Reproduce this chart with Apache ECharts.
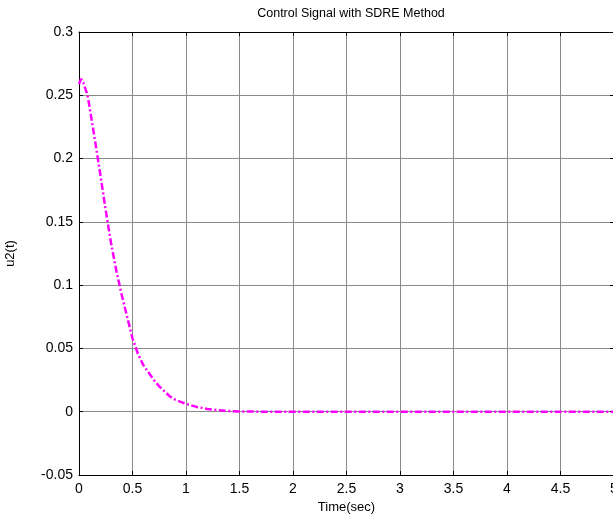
<!DOCTYPE html>
<html>
<head>
<meta charset="utf-8">
<script src="https://cdn.jsdelivr.net/npm/echarts@6/dist/echarts.min.js"></script>
<style>
  html, body { margin: 0; padding: 0; background: #fff; }
  #main { width: 613px; height: 523px; }
</style>
</head>
<body>
<div id="main"></div>
<script>
// time samples (sec) and u2(t)
var timeSec = [0, 0.02, 0.04, 0.06, 0.08, 0.10, 0.15, 0.20, 0.25, 0.30, 0.35, 0.40, 0.45, 0.50,
    0.55, 0.60, 0.65, 0.70, 0.75, 0.80, 0.85, 0.90, 0.95, 1.0, 1.1, 1.2, 1.3, 1.4, 1.5, 1.6, 1.8,
    2.0, 2.5, 3.0, 3.5, 4.0, 4.5, 5.0];
var u2 = [0.259, 0.263, 0.260, 0.255, 0.250, 0.240, 0.214, 0.187, 0.159, 0.133, 0.111, 0.092, 0.075, 0.058,
    0.046, 0.037, 0.031, 0.025, 0.020, 0.016, 0.012, 0.0095, 0.0078, 0.0062, 0.0038, 0.0022, 0.0013, 0.0006, 0.0002, 0.0001, 0,
    0, 0, 0, 0, 0, 0, 0];

var xMin = 0, xMax = 5, xStep = 0.5;
var yMin = -0.05, yMax = 0.3, yStep = 0.05;

var font = 'Liberation Sans, Arial, sans-serif';
var gridColor = '#8a8a8a';

var seriesData = timeSec.map(function (t, i) { return [t, u2[i]]; });

var chart = echarts.init(document.getElementById('main'));

var option = {
    animation: false,
    backgroundColor: '#fff',
    title: {
        text: 'Control Signal with SDRE Method',
        left: 346,
        top: 2,
        textAlign: 'center',
        textStyle: { fontFamily: font, fontSize: 12.5, fontWeight: 'normal', color: '#000' }
    },
    grid: { left: 79, top: 32, width: 535, height: 443, containLabel: false, outerBoundsMode: 'none' },
    xAxis: [
        {
            type: 'value',
            min: xMin, max: xMax, interval: xStep,
            name: 'Time(sec)',
            nameLocation: 'middle',
            nameGap: 26,
            nameTextStyle: { fontFamily: font, fontSize: 13, color: '#000' },
            axisLine: { onZero: false, lineStyle: { color: '#000', width: 1 } },
            axisTick: { inside: true, length: 4, lineStyle: { color: '#000' } },
            axisLabel: { fontFamily: font, fontSize: 14, color: '#000', margin: 7, hideOverlap: false },
            splitLine: { show: true, lineStyle: { color: gridColor, width: 1 } }
        },
        {
            type: 'value',
            position: 'top',
            min: xMin, max: xMax, interval: xStep,
            axisLine: { onZero: false, lineStyle: { color: '#000', width: 1 } },
            axisTick: { inside: true, length: 4, lineStyle: { color: '#000' } },
            axisLabel: { show: false },
            splitLine: { show: false }
        }
    ],
    yAxis: [
        {
            type: 'value',
            min: yMin, max: yMax, interval: yStep,
            name: 'u2(t)',
            nameLocation: 'middle',
            nameGap: 62,
            nameRotate: 90,
            nameTextStyle: { fontFamily: font, fontSize: 13, color: '#000' },
            axisLine: { show: true, onZero: false, lineStyle: { color: '#000', width: 1 } },
            axisTick: { show: true, inside: true, length: 4, lineStyle: { color: '#000' } },
            axisLabel: {
                fontFamily: font, fontSize: 14, color: '#000', margin: 6,
                formatter: function (v) { return String(parseFloat(v.toFixed(2))); }
            },
            splitLine: { show: true, lineStyle: { color: gridColor, width: 1 } }
        },
        {
            type: 'value',
            position: 'right',
            min: yMin, max: yMax, interval: yStep,
            axisLine: { show: true, onZero: false, lineStyle: { color: '#000', width: 1 } },
            axisTick: { show: true, inside: true, length: 4, lineStyle: { color: '#000' } },
            axisLabel: { show: false },
            splitLine: { show: false }
        }
    ],
    series: [
        {
            type: 'line',
            xAxisIndex: 0,
            yAxisIndex: 0,
            data: seriesData,
            showSymbol: false,
            symbol: 'none',
            smooth: false,
            lineStyle: { color: '#ff00ff', width: 2.5, type: [7, 2.5, 2, 2.5] },
            z: 5
        }
    ]
};

chart.setOption(option);
</script>
</body>
</html>
